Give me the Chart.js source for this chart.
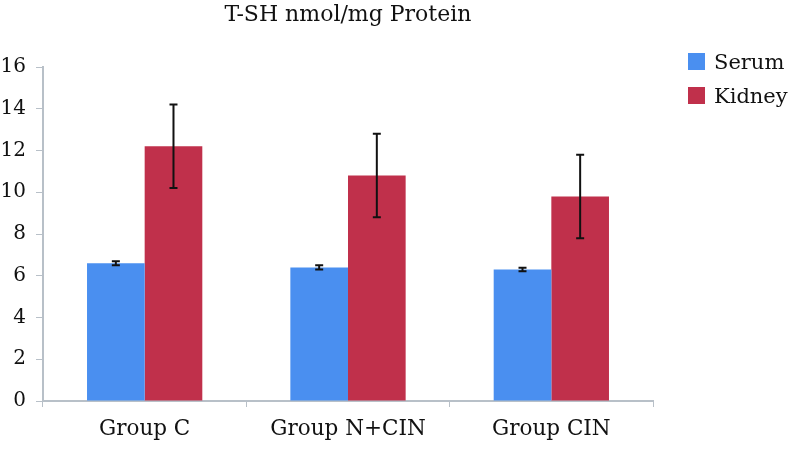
<!DOCTYPE html>
<html>
<head>
<meta charset="utf-8">
<script src="https://cdn.jsdelivr.net/npm/chart.js@4.4.1/dist/chart.umd.min.js"></script>
<style>
  body { margin: 0; background: #fff; }
  #wrap { position: relative; width: 794px; height: 454px; }
  .legend { position: absolute; left: 688px; font-family: "DejaVu Serif", serif; font-size: 21px; color: #111; }
  .legend span.box { display: inline-block; width: 17px; height: 17px; margin-right: 9px; vertical-align: -1px; }
</style>
</head>
<body>
<div id="wrap">
  <canvas id="chart" width="794" height="454"></canvas>
  <div class="legend" style="top:50px"><span class="box" style="background:#4a8ff0"></span>Serum</div>
  <div class="legend" style="top:84px"><span class="box" style="background:#c0304b"></span>Kidney</div>
</div>
<script>
// data
const groups = ['Group C', 'Group N+CIN', 'Group CIN'];
const serum = [6.6, 6.4, 6.3];
const serumErr = [0.1, 0.1, 0.08];
const kidney = [12.2, 10.8, 9.8];
const kidneyErr = [2.0, 2.0, 2.0];
const yTicks = [0, 2, 4, 6, 8, 10, 12, 14, 16];

const FONT = '"DejaVu Serif", serif';

// draws the error bars on top of each bar
const errorBars = {
  id: 'errorBars',
  afterDatasetsDraw(chart) {
    const ctx = chart.ctx;
    const y = chart.scales.y;
    chart.data.datasets.forEach((ds, i) => {
      const meta = chart.getDatasetMeta(i);
      meta.data.forEach((bar, j) => {
        const v = ds.data[j], e = ds.errors[j];
        const top = y.getPixelForValue(v + e);
        const bot = y.getPixelForValue(v - e);
        ctx.save();
        ctx.strokeStyle = '#111';
        ctx.lineWidth = 2;
        ctx.beginPath();
        ctx.moveTo(bar.x, top); ctx.lineTo(bar.x, bot);
        ctx.moveTo(bar.x - 4, top); ctx.lineTo(bar.x + 4, top);
        ctx.moveTo(bar.x - 4, bot); ctx.lineTo(bar.x + 4, bot);
        ctx.stroke();
        ctx.restore();
      });
    });
  }
};

new Chart(document.getElementById('chart'), {
  type: 'bar',
  data: {
    labels: groups,
    datasets: [
      { label: 'Serum', data: serum, errors: serumErr, backgroundColor: '#4a8ff0' },
      { label: 'Kidney', data: kidney, errors: kidneyErr, backgroundColor: '#c0304b' }
    ]
  },
  options: {
    responsive: false,
    animation: false,
    layout: { padding: { left: 0, right: 141, top: 0, bottom: 0 } },
    datasets: { bar: { categoryPercentage: 0.567, barPercentage: 1.0 } },
    plugins: {
      legend: { display: false },
      tooltip: { enabled: false },
      title: {
        display: true,
        text: 'T-SH nmol/mg Protein',
        color: '#111',
        font: { family: FONT, size: 22, weight: 'normal' },
        padding: { top: 2, bottom: 38.6 },
        fullSize: false
      }
    },
    scales: {
      x: {
        grid: { display: true, drawOnChartArea: false, drawTicks: true, tickLength: 6, color: '#b8c0c8', offset: true },
        border: { color: '#b8c0c8', width: 2 },
        ticks: { color: '#111', font: { family: FONT, size: 21.5 }, padding: 10 },
        afterFit: s => { s.height = 53; }
      },
      y: {
        min: 0, max: 16,
        afterBuildTicks: s => { s.ticks = yTicks.map(v => ({ value: v })); },
        grid: { display: true, drawOnChartArea: false, drawTicks: true, tickLength: 7, color: '#b8c0c8' },
        border: { color: '#b8c0c8', width: 2 },
        ticks: { color: '#111', font: { family: FONT, size: 20 }, padding: 10 },
        afterFit: s => { s.width = 43; }
      }
    }
  },
  plugins: [errorBars]
});
</script>
</body>
</html>
